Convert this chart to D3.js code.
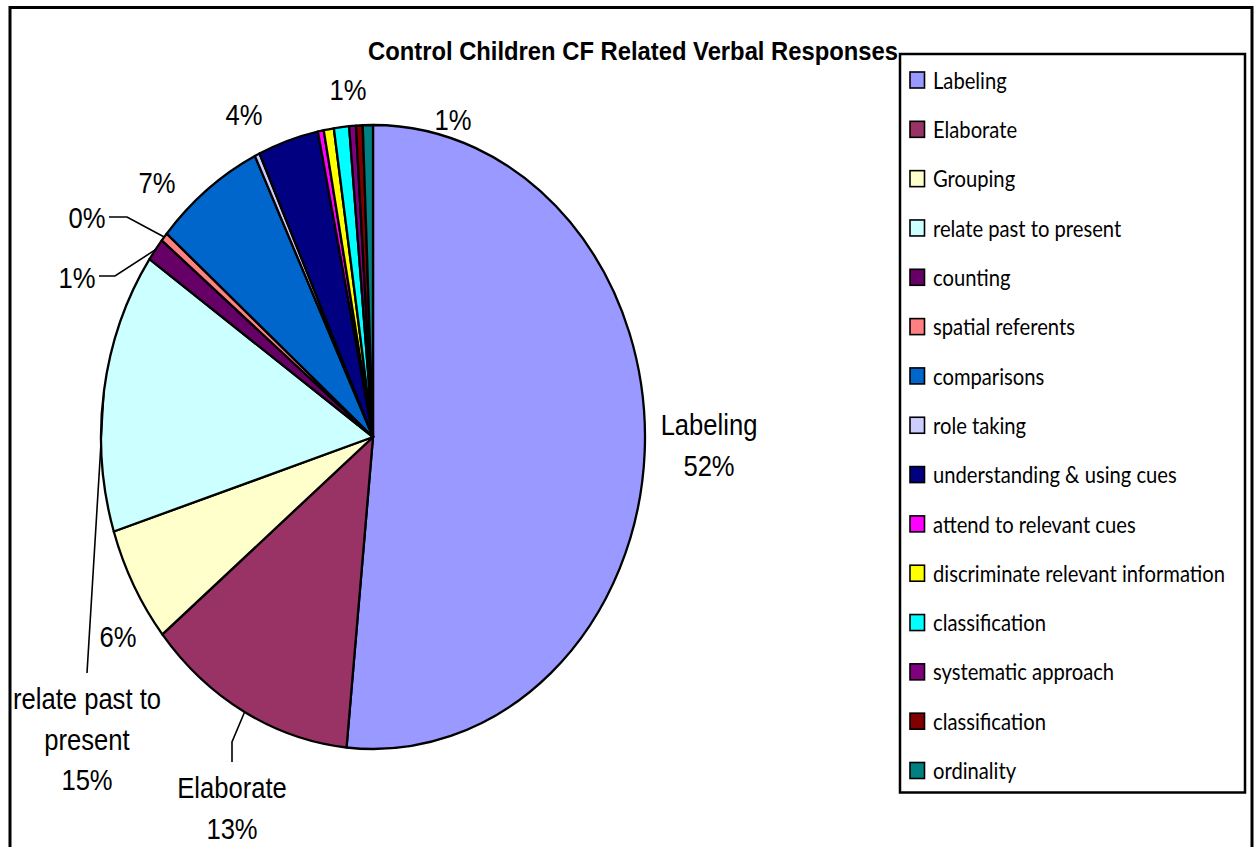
<!DOCTYPE html>
<html>
<head>
<meta charset="utf-8">
<script src="https://cdn.jsdelivr.net/npm/d3@7"></script>
<style>
  body { margin: 0; background: #fff; }
  svg { display: block; }
</style>
</head>
<body>
<svg id="chart" width="1260" height="847"></svg>
<script>
// ---- data ----
const categories = [
  "Labeling", "Elaborate", "Grouping", "relate past to present", "counting",
  "spatial referents", "comparisons", "role taking", "understanding & using cues",
  "attend to relevant cues", "discriminate relevant information", "classification",
  "systematic approach", "classification", "ordinality"
];
const shares = [51.55, 12.55, 6.0, 14.55, 1.2, 0.45, 6.55, 0.3, 3.6, 0.35, 0.6, 0.9, 0.4, 0.4, 0.6];
const sliceColors = [
  "#9999FF", "#993366", "#FFFFCC", "#CCFFFF", "#660066",
  "#FF8080", "#0066CC", "#CCCCFF", "#000080", "#FF00FF",
  "#FFFF00", "#00FFFF", "#800080", "#800000", "#008080"
];
const chartTitle = "Control Children CF Related Verbal Responses";

// ---- layout ----
const W = 1260, H = 847;
const SY = 1.147;                 // vertical stretch of the whole drawing
const cx = 373, cy = 437, R = 272;
const LABEL_FONT = "'Liberation Sans', Arial, sans-serif";
const LEGEND_FONT = "Lato, 'Open Sans', sans-serif";

// data label placement; "%" is replaced with the slice percentage
const labelLayout = [
  { i: 0,  x: 709, y: 425, lines: ["Labeling", "%"] },
  { i: 1,  x: 232, y: 788, lines: ["Elaborate", "%"], leader: [[232, 762], [232, 742]] },
  { i: 2,  x: 118, y: 637, lines: ["%"] },
  { i: 3,  x: 87,  y: 699, lines: ["relate past to", "present", "%"], leader: [[87, 673], [100, 460]] },
  { i: 4,  x: 77,  y: 278, lines: ["%"], leader: [[99, 276], [115, 276]] },
  { i: 5,  x: 87,  y: 218, lines: ["%"], leader: [[109, 217], [127, 217]] },
  { i: 6,  x: 157, y: 183, lines: ["%"] },
  { i: 8,  x: 244, y: 115, lines: ["%"] },
  { i: 11, x: 348, y: 90,  lines: ["%"] },
  { i: 14, x: 453, y: 120, lines: ["%"] }
];
const LINE_GAP = 40.5;

const svg = d3.select("#chart");
svg.append("rect").attr("width", W).attr("height", H).attr("fill", "#fff");

// outer chart frame (runs past the bottom edge)
svg.append("rect")
  .attr("x", 10).attr("y", 7.5).attr("width", 1242).attr("height", 900)
  .attr("fill", "none").attr("stroke", "#000").attr("stroke-width", 3);

// text drawn with the same vertical stretch as the pie
function stretchedText(parent, x, y, str, size, anchor, weight, family) {
  return parent.append("text")
    .attr("transform", `translate(${x},${y}) scale(1,${SY})`)
    .attr("dy", "0.35em")
    .attr("text-anchor", anchor || "middle")
    .attr("font-family", family || LABEL_FONT)
    .attr("font-size", size)
    .attr("font-weight", weight || "normal")
    .attr("fill", "#000")
    .text(str);
}

// title
stretchedText(svg, 633, 51, chartTitle, 22.4, "middle", "bold")
  .attr("textLength", 530).attr("lengthAdjust", "spacingAndGlyphs");

// ---- pie ----
const total = d3.sum(shares);
const pie = d3.pie().sort(null).value(d => d).startAngle(0).endAngle(2 * Math.PI);
const arcs = pie(shares);
const arc = d3.arc().innerRadius(0).outerRadius(R);

const pieG = svg.append("g").attr("transform", `translate(${cx},${cy}) scale(1,${SY})`);
pieG.selectAll("path.slice")
  .data(arcs)
  .join("path")
  .attr("class", "slice")
  .attr("d", arc)
  .attr("fill", (d, i) => sliceColors[i])
  .attr("stroke", "#000")
  .attr("stroke-width", 2.3)
  .attr("stroke-linejoin", "round")
  .attr("vector-effect", "non-scaling-stroke");

// point on the pie rim at the middle of a slice
function rimPoint(d) {
  const a = (d.startAngle + d.endAngle) / 2;
  return [cx + R * Math.sin(a), cy - R * SY * Math.cos(a)];
}

const pctFmt = v => Math.round(v / total * 100) + "%";

// ---- data labels and leader lines ----
const labelsG = svg.append("g");
labelLayout.forEach(L => {
  const d = arcs[L.i];
  if (L.leader) {
    const pts = L.leader.concat([rimPoint(d)]);
    labelsG.append("path")
      .attr("d", d3.line()(pts))
      .attr("fill", "none")
      .attr("stroke", "#000")
      .attr("stroke-width", 1.6);
  }
  L.lines.forEach((s, k) => {
    const str = s === "%" ? pctFmt(shares[L.i]) : s;
    stretchedText(labelsG, L.x, L.y + k * LINE_GAP, str, 25.6, "middle");
  });
});

// ---- legend ----
const legend = svg.append("g");
legend.append("rect")
  .attr("x", 900).attr("y", 54).attr("width", 345).attr("height", 738.5)
  .attr("fill", "#fff").attr("stroke", "#000").attr("stroke-width", 2.5);

const rowY = d3.scalePoint().domain(d3.range(categories.length)).range([80, 770.5]);
const rows = legend.selectAll("g.item")
  .data(categories)
  .join("g")
  .attr("class", "item");
rows.append("rect")
  .attr("x", 910).attr("y", (d, i) => rowY(i) - 8)
  .attr("width", 14.5).attr("height", 16)
  .attr("fill", (d, i) => sliceColors[i])
  .attr("stroke", "#000").attr("stroke-width", 1.6);
rows.each(function (d, i) {
  stretchedText(d3.select(this), 933, rowY(i) + 0.5, d, 20.2, "start", "normal", LEGEND_FONT);
});
</script>
</body>
</html>
